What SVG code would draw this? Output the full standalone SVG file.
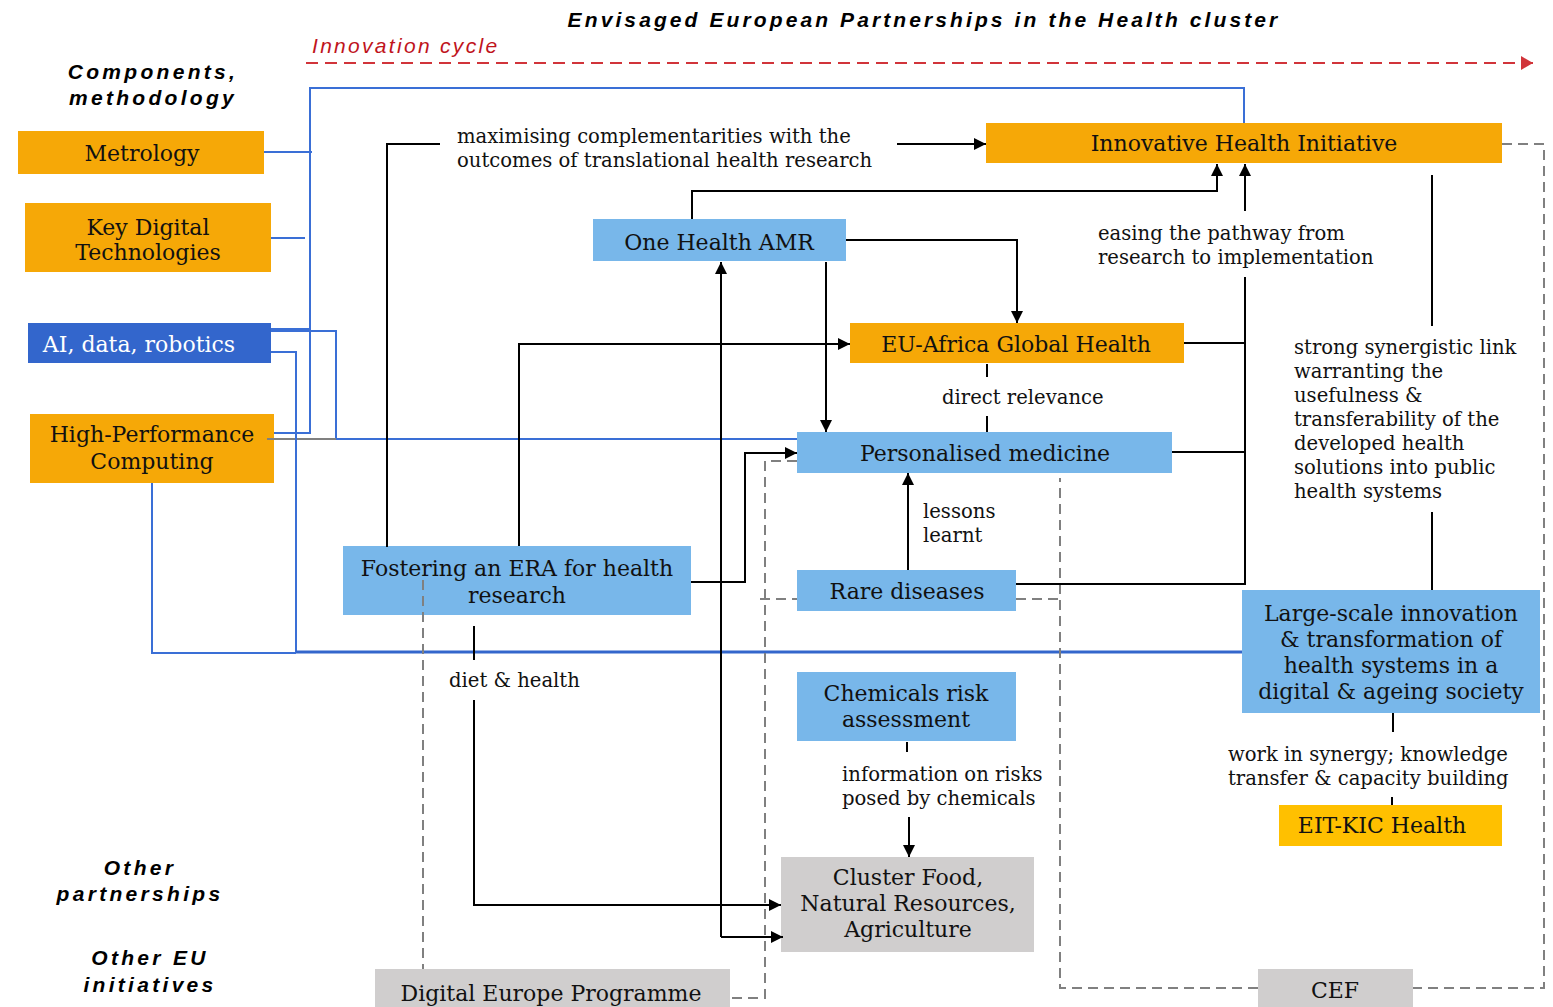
<svg xmlns="http://www.w3.org/2000/svg" width="1553" height="1007" viewBox="0 0 1553 1007">
<style>
.n{font-family:"DejaVu Serif","Liberation Serif",serif;font-size:22px;fill:#111;text-anchor:middle}
.l{font-family:"DejaVu Serif","Liberation Serif",serif;font-size:19.6px;fill:#111}
.h{font-family:"Liberation Sans",Arial,sans-serif;font-size:21px;font-weight:bold;font-style:italic;fill:#000;letter-spacing:3.3px;text-anchor:middle}
.or{fill:#F6A807}
.lb{fill:#78B7EA}
.db{fill:#3366CC}
.gr{fill:#D0CECE}
.ye{fill:#FFC000}
.k{fill:none;stroke:#000;stroke-width:2}
.b{fill:none;stroke:#3A6FD6;stroke-width:2}
.d{fill:none;stroke:#808080;stroke-width:2;stroke-dasharray:10 6}
</style>
<defs>
<marker id="a" markerUnits="userSpaceOnUse" markerWidth="12" markerHeight="12" refX="12" refY="6" orient="auto"><path d="M0,0 L12,6 L0,12 z" fill="#000"/></marker>
<marker id="r" markerUnits="userSpaceOnUse" markerWidth="12" markerHeight="14" refX="12" refY="7" orient="auto"><path d="M0,0 L12,7 L0,14 z" fill="#D1343A"/></marker>
</defs>
<rect width="1553" height="1007" fill="#fff"/>
<g id="headers">
<text class="h" x="924" y="27" style="letter-spacing:3.1px">Envisaged European Partnerships in the Health cluster</text>
<text x="312" y="53" font-family="Liberation Sans, Arial, sans-serif" font-size="21" font-style="italic" fill="#C0141C" letter-spacing="2.3">Innovation cycle</text>
<text class="h" x="153" y="79">Components,</text>
<text class="h" x="153" y="105">methodology</text>
<text class="h" x="140" y="875">Other</text>
<text class="h" x="140" y="901">partnerships</text>
<text class="h" x="150" y="965">Other EU</text>
<text class="h" x="150" y="992">initiatives</text>
</g>
<g id="nodes">
<g id="metrology"><rect class="or" x="18" y="131" width="246" height="43"/><text class="n" x="142" y="161">Metrology</text></g>
<g id="kdt"><rect class="or" x="25" y="203" width="246" height="69"/><text class="n" x="148" y="235">Key Digital</text><text class="n" x="148" y="260">Technologies</text></g>
<g id="ai"><rect class="db" x="28" y="323" width="243" height="40"/><text class="n" x="139" y="352" style="fill:#fff">AI, data, robotics</text></g>
<g id="hpc"><rect class="or" x="30" y="414" width="244" height="69"/><text class="n" x="152" y="442">High-Performance</text><text class="n" x="152" y="469">Computing</text></g>
<g id="ihi"><rect class="or" x="986" y="123" width="516" height="40"/><text class="n" x="1244" y="151">Innovative Health Initiative</text></g>
<g id="amr"><rect class="lb" x="593" y="219" width="253" height="42"/><text class="n" x="719" y="250">One Health AMR</text></g>
<g id="africa"><rect class="or" x="850" y="323" width="334" height="40"/><text class="n" x="1016" y="352">EU-Africa Global Health</text></g>
<g id="pm"><rect class="lb" x="797" y="432" width="375" height="41"/><text class="n" x="985" y="461">Personalised medicine</text></g>
<g id="era"><rect class="lb" x="343" y="546" width="348" height="69"/><text class="n" x="517" y="576">Fostering an ERA for health</text><text class="n" x="517" y="603">research</text></g>
<g id="rare"><rect class="lb" x="797" y="570" width="219" height="41"/><text class="n" x="907" y="599">Rare diseases</text></g>
<g id="chem"><rect class="lb" x="797" y="672" width="219" height="69"/><text class="n" x="906" y="701">Chemicals risk</text><text class="n" x="906" y="727">assessment</text></g>
<g id="large"><rect class="lb" x="1242" y="590" width="298" height="123"/><text class="n" x="1391" y="621">Large-scale innovation</text><text class="n" x="1391" y="647">&amp; transformation of</text><text class="n" x="1391" y="673">health systems in a</text><text class="n" x="1391" y="699">digital &amp; ageing society</text></g>
<g id="eit"><rect class="ye" x="1279" y="805" width="223" height="41"/><text class="n" x="1382" y="833">EIT-KIC Health</text></g>
<g id="food"><rect class="gr" x="781" y="857" width="253" height="95"/><text class="n" x="908" y="885">Cluster Food,</text><text class="n" x="908" y="911">Natural Resources,</text><text class="n" x="908" y="937">Agriculture</text></g>
<g id="dep"><rect class="gr" x="375" y="969" width="355" height="40"/><text class="n" x="551" y="1001">Digital Europe Programme</text></g>
<g id="cef"><rect class="gr" x="1258" y="969" width="155" height="40"/><text class="n" x="1335" y="998">CEF</text></g>
</g>
<g id="connectors">
<path d="M306,63 H1533" fill="none" stroke="#D1343A" stroke-width="2" stroke-dasharray="12 7" marker-end="url(#r)"/>
<path class="b" d="M264,152 H312"/>
<path class="b" d="M271,238 H305"/>
<path class="b" d="M274,433 H310 V88 H1244 V123"/>
<path class="b" d="M271,329 H310"/>
<path class="b" d="M271,331 H336 V439 H797" stroke-width="1.6"/>
<path d="M267,439 H336" fill="none" stroke="#808080" stroke-width="2"/>
<path class="b" d="M271,352 H296 V652 H1242" stroke-width="2"/>
<path d="M296,652 H1242" fill="none" stroke="#3366CC" stroke-width="3"/>
<path class="b" d="M152,483 V653 H296"/>
<path class="d" d="M1502,144 H1544 V988 H1413"/>
<path class="d" d="M1258,988 H1060 V478"/>
<path class="d" d="M797,461 H765 V998 H730"/>
<path class="d" d="M760,599 H797"/>
<path class="d" d="M1016,599 H1060"/>
<path class="d" d="M423,580 V969"/>
<path class="k" d="M387,547 V144 H440"/>
<path class="k" d="M897,144 H986" marker-end="url(#a)"/>
<path class="k" d="M692,219 V191 H1217 V164" marker-end="url(#a)"/>
<path class="k" d="M1245,277 V584 H1016" stroke-width="2.5"/>
<path class="k" d="M1245,211 V164" stroke-width="3" marker-end="url(#a)"/>
<path class="k" d="M1184,343 H1245"/>
<path class="k" d="M1172,452 H1245"/>
<path class="k" d="M846,240 H1017 V323" marker-end="url(#a)"/>
<path class="k" d="M826,262 V432" marker-end="url(#a)"/>
<path class="k" d="M721,937 V262" marker-end="url(#a)"/>
<path class="k" d="M721,937 H783" marker-end="url(#a)"/>
<path class="k" d="M519,546 V344 H850" marker-end="url(#a)"/>
<path class="k" d="M691,582 H745 V453 H797" marker-end="url(#a)"/>
<path class="k" d="M908,570 V473" marker-end="url(#a)"/>
<path class="k" d="M987,364 V377 M987,416 V432"/>
<path class="k" d="M474,626 V660"/>
<path class="k" d="M474,700 V905 H781" marker-end="url(#a)"/>
<path class="k" d="M907,742 V752"/>
<path class="k" d="M909,817 V857" marker-end="url(#a)"/>
<path class="k" d="M1432,175 V326 M1432,512 V590"/>
<path class="k" d="M1393,713 V732 M1392,797 V805"/>
</g>
<g id="labels">
<text class="l" x="457" y="143">maximising complementarities with the</text>
<text class="l" x="457" y="167">outcomes of translational health research</text>
<text class="l" x="1098" y="240">easing the pathway from</text>
<text class="l" x="1098" y="264">research to implementation</text>
<text class="l" x="942" y="404">direct relevance</text>
<text class="l" x="923" y="518">lessons</text>
<text class="l" x="923" y="542">learnt</text>
<text class="l" x="1294" y="354">strong synergistic link</text>
<text class="l" x="1294" y="378">warranting the</text>
<text class="l" x="1294" y="402">usefulness &amp;</text>
<text class="l" x="1294" y="426">transferability of the</text>
<text class="l" x="1294" y="450">developed health</text>
<text class="l" x="1294" y="474">solutions into public</text>
<text class="l" x="1294" y="498">health systems</text>
<text class="l" x="449" y="687">diet &amp; health</text>
<text class="l" x="842" y="781">information on risks</text>
<text class="l" x="842" y="805">posed by chemicals</text>
<text class="l" x="1228" y="761">work in synergy; knowledge</text>
<text class="l" x="1228" y="785">transfer &amp; capacity building</text>
</g>
</svg>
